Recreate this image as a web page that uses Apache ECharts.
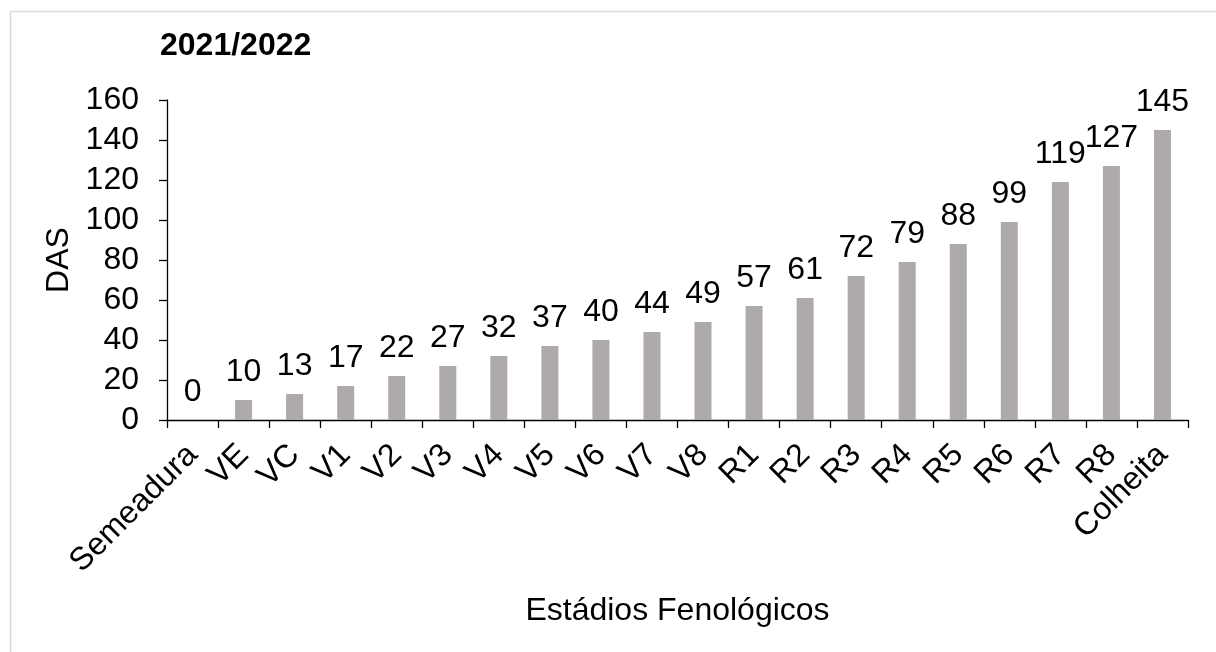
<!DOCTYPE html>
<html>
<head>
<meta charset="utf-8">
<script src="https://cdn.jsdelivr.net/npm/echarts@6/dist/echarts.min.js"></script>
<style>html,body{margin:0;padding:0;background:#fff;}#c{width:1216px;height:652px;}</style>
</head>
<body>
<div id="c"></div>
<script>
const categories = ['Semeadura','VE','VC','V1','V2','V3','V4','V5','V6','V7','V8','R1','R2','R3','R4','R5','R6','R7','R8','Colheita'];
const dasValues = [0,10,13,17,22,27,32,37,40,44,49,57,61,72,79,88,99,119,127,145];
const titleText = '2021/2022';
const yAxisName = 'DAS';
const xAxisName = 'Estádios Fenológicos';

const FONT = '"Liberation Sans", Arial, sans-serif';
const FS = 32;
const chart = echarts.init(document.getElementById('c'), null, {renderer:'canvas'});
chart.setOption({
  backgroundColor: '#ffffff',
  animation: false,
  graphic: [{
    type: 'rect', left: 8, top: 9, z: -1,
    shape: {width: 1300, height: 800},
    style: {fill: 'none', stroke: '#d9d9d9', lineWidth: 1.5}
  }],
  title: {
    text: titleText, left: 155, top: 25,
    textStyle: {fontFamily: FONT, fontSize: FS, fontWeight: 'bold', color: '#000'}
  },
  grid: {left: 167, right: 28, top: 100, bottom: 232, containLabel: false},
  xAxis: {
    type: 'category', data: categories,
    name: xAxisName, nameLocation: 'middle', nameGap: 175,
    nameTextStyle: {fontFamily: FONT, fontSize: FS, color: '#000'},
    axisLine: {lineStyle: {color: '#000', width: 1.3}},
    axisTick: {show: true, alignWithLabel: false, length: 8, lineStyle: {color: '#000', width: 1.3}},
    axisLabel: {rotate: 45, margin: 30, interval: 0, fontFamily: FONT, fontSize: FS, color: '#000'}
  },
  yAxis: {
    type: 'value', min: 0, max: 160, interval: 20,
    name: yAxisName, nameLocation: 'middle', nameGap: 90, nameRotate: 90,
    nameTextStyle: {fontFamily: FONT, fontSize: FS, color: '#000'},
    axisLine: {show: true, lineStyle: {color: '#000', width: 1.3}},
    axisTick: {show: true, length: 8, lineStyle: {color: '#000', width: 1.3}},
    splitLine: {show: false},
    axisLabel: {margin: 28, fontFamily: FONT, fontSize: FS, color: '#000'}
  },
  series: [{
    type: 'bar', data: dasValues, barWidth: 17,
    itemStyle: {color: '#aeaaaa'},
    label: {show: true, position: 'top', distance: 12, fontFamily: FONT, fontSize: FS, color: '#000'}
  }]
});
</script>
</body>
</html>
